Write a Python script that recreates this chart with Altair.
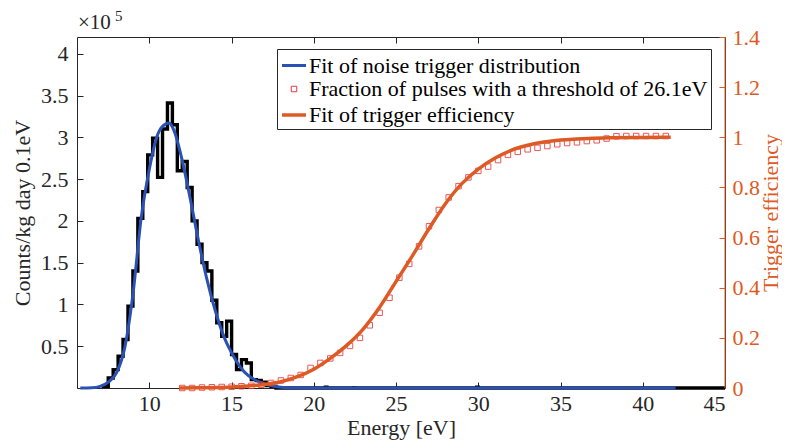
import altair as alt
import pandas as pd

# ---------------- data ----------------
LBL_FIT = "Fit of noise trigger distribution"
LBL_PTS = "Fraction of pulses with a threshold of 26.1eV"
LBL_EFF = "Fit of trigger efficiency"

# noise trigger histogram (units of 1e5 counts/kg/day/0.1eV); left bin edges + last right edge
hist_edges = [7.2, 7.5, 7.8, 8.1, 8.4, 8.7, 9.0, 9.3, 9.6, 9.9, 10.2, 10.5, 10.8, 11.1,
              11.4, 11.7, 12.0, 12.3, 12.6, 12.9, 13.2, 13.5, 13.8, 14.1, 14.4, 14.7,
              15.0, 15.3, 15.6, 15.9, 16.2, 16.5, 16.8, 17.1, 17.4, 17.7, 18.0]
hist_vals = [0.02, 0.12, 0.22, 0.38, 0.58, 0.98, 1.40, 2.03, 2.35, 2.79, 2.99, 2.52, 3.10,
             3.41, 3.15, 2.60, 2.71, 2.40, 2.00, 1.72, 1.50, 1.40, 1.05, 0.78, 0.62, 0.80,
             0.40, 0.22, 0.34, 0.30, 0.10, 0.09, 0.07, 0.03, 0.02, 0.00]
# a few isolated small bins further right
blip_lo = [20.6, 22.3, 29.8]
blip_hi = [20.9, 22.6, 30.1]
blip_vals = [0.03, 0.02, 0.03]

# fit of the noise trigger distribution
noise_fit_e = [5.8, 6.5, 7.0, 7.5, 8.0, 8.5, 9.0, 9.5, 10.0, 10.5, 11.0, 11.2, 11.5, 12.0,
               12.5, 13.0, 13.5, 14.0, 14.5, 15.0, 15.5, 16.0, 16.5, 17.0, 17.5, 18.0,
               19.0, 20.0, 42.0]
noise_fit_v = [0.0, 0.003, 0.02, 0.07, 0.18, 0.48, 1.12, 2.03, 2.62, 3.03, 3.16, 3.17, 3.08,
               2.72, 2.25, 1.75, 1.30, 0.93, 0.63, 0.42, 0.26, 0.15, 0.09, 0.05, 0.025, 0.01,
               0.003, 0.0, 0.0]

# measured fraction of pulses (trigger efficiency points)
eff_pts_e = [12.0, 12.6, 13.2, 13.8, 14.4, 15.0, 15.6, 16.2, 16.8, 17.4, 18.0, 18.6, 19.2,
             19.8, 20.4, 21.0, 21.6, 22.2, 22.8, 23.4, 24.0, 24.6, 25.2, 25.8, 26.4, 27.0,
             27.6, 28.2, 28.8, 29.4, 30.0, 30.6, 31.2, 31.8, 32.4, 33.0, 33.6, 34.2, 34.8,
             35.4, 36.0, 36.6, 37.2, 37.8, 38.4, 39.0, 39.6, 40.2, 40.8, 41.4]
eff_pts_v = [0.0, 0.0, 0.002, 0.003, 0.004, 0.005, 0.007, 0.009, 0.013, 0.02, 0.03, 0.04,
             0.052, 0.08, 0.10, 0.118, 0.14, 0.168, 0.20, 0.25, 0.30, 0.36, 0.44, 0.495,
             0.565, 0.645, 0.71, 0.76, 0.805, 0.84, 0.866, 0.883, 0.909, 0.93, 0.942, 0.952,
             0.958, 0.965, 0.972, 0.977, 0.98, 0.985, 0.988, 0.995, 1.004, 1.005, 1.005,
             1.005, 1.005, 1.005]

# fit of the trigger efficiency
eff_fit_e = [11.8, 13.0, 14.0, 15.0, 16.0, 17.0, 18.0, 19.0, 20.0, 21.0, 22.0, 23.0, 24.0,
             25.0, 26.0, 27.0, 28.0, 29.0, 30.0, 31.0, 32.0, 33.0, 34.0, 35.0, 36.0, 37.0,
             38.0, 40.0, 41.7]
eff_fit_v = [0.0, 0.001, 0.002, 0.004, 0.008, 0.014, 0.025, 0.045, 0.075, 0.118, 0.17, 0.235,
             0.322, 0.425, 0.528, 0.635, 0.735, 0.815, 0.873, 0.916, 0.948, 0.968, 0.981,
             0.989, 0.993, 0.996, 0.998, 0.999, 1.0]

x_ticks = [10, 15, 20, 25, 30, 35, 40, 45]
left_ticks = [0, 0.5, 1, 1.5, 2, 2.5, 3, 3.5, 4]
right_ticks = [0, 0.2, 0.4, 0.6, 0.8, 1, 1.2, 1.4]

# ---------------- styling ----------------
BLUE = "#2a52b4"
ORANGE = "#dd5a24"
SQ = "#e8383d"
AX = "#262626"
FONT = "Liberation Serif"
W, H = 648, 351

# ---------------- frames ----------------
rows = [(hist_edges[0], 0.0)]
for i, v in enumerate(hist_vals):
    rows.append((hist_edges[i], v))
rows.append((hist_edges[-1], hist_vals[-1]))
rows.append((hist_edges[-1], 0.0))
rows.append((45.0, 0.0))
hist_df = pd.DataFrame(rows, columns=["e", "v"])
hist_df["i"] = range(len(hist_df))

blip_df = pd.DataFrame({"lo": blip_lo, "hi": blip_hi, "v": blip_vals})
noise_df = pd.DataFrame({"e": noise_fit_e, "v": noise_fit_v, "series": LBL_FIT})
pts_df = pd.DataFrame({"e": eff_pts_e, "v": eff_pts_v, "series": LBL_PTS})
effit_df = pd.DataFrame({"e": eff_fit_e, "v": eff_fit_v, "series": LBL_EFF})

labels = [LBL_FIT, LBL_PTS, LBL_EFF]
xscale = alt.Scale(domain=[5.6, 45], nice=False, zero=False)
yl_scale = alt.Scale(domain=[0, 4.2], nice=False)
yr_scale = alt.Scale(domain=[0, 1.4], nice=False)

legend = alt.Legend(
    orient="none", legendX=200, legendY=12, title=None,
    fillColor="white", strokeColor=AX, padding=3, cornerRadius=0,
    labelFont=FONT, labelFontSize=22, labelColor="black", labelLimit=0,
    labelOffset=1, rowPadding=1, symbolOpacity=1,
)
color = alt.Color("series:N", scale=alt.Scale(domain=labels, range=[BLUE, SQ, ORANGE]),
                  legend=legend)
swidth = alt.StrokeWidth("series:N",
                         scale=alt.Scale(type="ordinal", domain=labels, range=[3, 1, 3.5]),
                         legend=legend)

x_bottom = alt.X("e:Q", scale=xscale, axis=alt.Axis(
    values=x_ticks, tickSize=6, offset=-6, domain=False, labelPadding=5,
    labelFont=FONT, titleFont=FONT,
    title="Energy [eV]", titlePadding=3))
y_left = alt.Y("v:Q", scale=yl_scale, axis=alt.Axis(
    values=left_ticks, tickSize=6, offset=-6, domain=False, labelPadding=9,
    labelFont=FONT, titleFont=FONT,
    labelExpr="datum.value == 0 ? '' : '' + datum.value",
    title="Counts/kg day 0.1eV", titlePadding=6))

hist = alt.Chart(hist_df).mark_line(interpolate="step-after", color="black",
                                    strokeWidth=3.4).encode(
    x=x_bottom, y=y_left, order="i:Q")
blips = alt.Chart(blip_df).mark_rect(color="black").encode(
    x=alt.X("lo:Q", scale=xscale), x2="hi:Q",
    y=alt.Y("v:Q", scale=yl_scale), y2=alt.datum(0))
noise = alt.Chart(noise_df).mark_line(interpolate="monotone").encode(
    x=alt.X("e:Q", scale=xscale), y=alt.Y("v:Q", scale=yl_scale),
    color=color, strokeWidth=swidth)

x_top = alt.X("e:Q", scale=xscale, axis=alt.Axis(
    orient="top", values=x_ticks, tickSize=6, offset=-6, domain=False,
    labels=False, title=None))
y_right = alt.Y("v:Q", scale=yr_scale, axis=alt.Axis(
    orient="right", values=right_ticks, tickSize=6, offset=-6, domain=False,
    labelPadding=7, labelColor=ORANGE, tickColor=ORANGE, labelFont=FONT,
    labelExpr="'' + datum.value",
    titleFont=FONT, titleAngle=270, titleBaseline="top",
    title="Trigger efficiency", titleColor=ORANGE, titlePadding=1))

pts = alt.Chart(pts_df).mark_point(shape="square", filled=False, opacity=0.85).encode(
    x=x_top, y=y_right, color=color, strokeWidth=swidth,
    shape=alt.Shape("series:N", scale=alt.Scale(domain=labels,
                                                range=["stroke", "square", "stroke"]),
                    legend=legend),
    size=alt.Size("series:N",
                  scale=alt.Scale(type="ordinal", domain=labels, range=[576, 30, 576]),
                  legend=legend))
effit = alt.Chart(effit_df).mark_line(interpolate="monotone").encode(
    x=alt.X("e:Q", scale=xscale), y=alt.Y("v:Q", scale=yr_scale),
    color=color, strokeWidth=swidth)

border = alt.Chart(pd.DataFrame({"k": [0]})).mark_rule(color=ORANGE, strokeWidth=1).encode(
    x=alt.value(W), y=alt.value(0), y2=alt.value(H))

# exponent annotation above the left axis
exp_base = alt.Chart(pd.DataFrame({"t": ["×10"]})).mark_text(
    align="left", baseline="alphabetic", font=FONT, fontSize=21, color=AX).encode(
    text="t:N", x=alt.value(1), y=alt.value(-8))
exp_pow = alt.Chart(pd.DataFrame({"t": ["5"]})).mark_text(
    align="left", baseline="alphabetic", font=FONT, fontSize=15, color=AX).encode(
    text="t:N", x=alt.value(38), y=alt.value(-16))

left = alt.layer(hist, blips, noise)
right = alt.layer(pts, effit, border, exp_base, exp_pow)

chart = alt.layer(left, right).resolve_scale(y="independent").resolve_axis(
    x="independent").properties(
    width=W, height=H,
    padding={"left": 69, "top": 29, "right": 57, "bottom": 52},
    autosize=alt.AutoSizeParams(type="none"),
).configure_axis(
    labelFont=FONT, titleFont=FONT, labelFontSize=22, titleFontSize=22,
    titleFontWeight="normal", labelColor=AX, titleColor=AX, tickColor=AX, grid=False,
).configure_view(stroke=AX, strokeWidth=1)

chart.save("out.html", embed_options={"renderer": "svg", "actions": False})
